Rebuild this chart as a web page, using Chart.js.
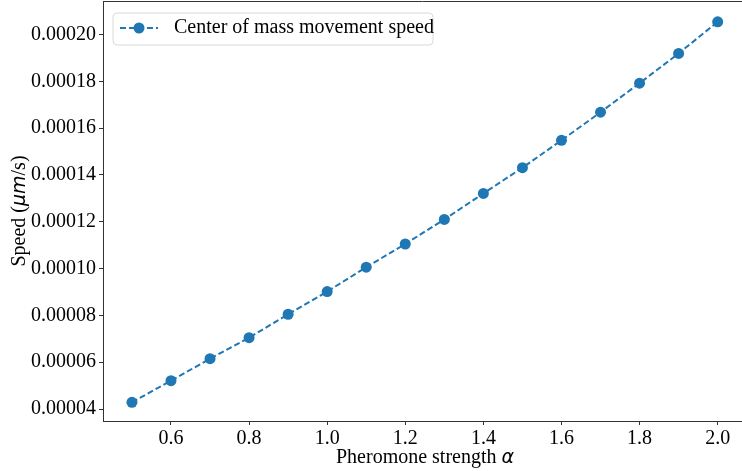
<!DOCTYPE html>
<html>
<head>
<meta charset="utf-8">
<script src="https://cdn.jsdelivr.net/npm/chart.js@4.4.1/dist/chart.umd.min.js"></script>
<style>
  html, body { margin: 0; padding: 0; background: #fff; overflow: hidden; }
  canvas { display: block; }
</style>
</head>
<body>
<canvas id="speedChart" width="742" height="471"></canvas>
<script>
  // pheromone strength (alpha) and centre of mass speed
  const alphaValues = [0.5, 0.6, 0.7, 0.8, 0.9, 1.0, 1.1, 1.2, 1.3, 1.4, 1.5, 1.6, 1.7, 1.8, 1.9, 2.0];
  const speedValues = [0.0000429, 0.0000521, 0.0000615, 0.0000705, 0.0000805, 0.0000902, 0.0001006, 0.0001105,
                       0.0001210, 0.0001321, 0.0001431, 0.0001548, 0.0001668, 0.0001792, 0.0001919, 0.0002054];
  const xTicks = [0.6, 0.8, 1.0, 1.2, 1.4, 1.6, 1.8, 2.0];
  const yTicks = [0.00004, 0.00006, 0.00008, 0.00010, 0.00012, 0.00014, 0.00016, 0.00018, 0.00020];
  const seriesLabel = 'Center of mass movement speed';

  const blue = '#1f77b4';
  const serif = '"Liberation Serif", "Times New Roman", serif';
  const mathFont = '"DejaVu Sans", sans-serif';

  function drawParts(ctx, parts, cx, cy, rotate) {
    ctx.save();
    ctx.translate(cx, cy);
    if (rotate) ctx.rotate(-Math.PI / 2);
    ctx.textBaseline = 'middle';
    ctx.textAlign = 'left';
    ctx.fillStyle = '#000';
    let total = 0;
    parts.forEach(p => { ctx.font = p.font; total += ctx.measureText(p.text).width; });
    let x = -total / 2;
    parts.forEach(p => {
      ctx.font = p.font;
      ctx.fillText(p.text, x, 0);
      x += ctx.measureText(p.text).width;
    });
    ctx.restore();
  }

  const framePlugin = {
    id: 'frame',
    afterDraw(chart) {
      const { ctx, chartArea: a } = chart;
      ctx.save();
      // top spine (right spine falls outside the cropped figure)
      ctx.strokeStyle = '#333';
      ctx.lineWidth = 1;
      ctx.beginPath();
      ctx.moveTo(a.left, a.top + 0.5);
      ctx.lineTo(a.right, a.top + 0.5);
      ctx.stroke();

      // axis titles, centred on the full axes (which run to x = 747)
      drawParts(ctx, [
        { text: 'Pheromone strength ', font: '20px ' + serif },
        { text: 'α', font: 'italic 19px ' + mathFont }
      ], (a.left + 747) / 2, 458, false);
      drawParts(ctx, [
        { text: 'Speed (', font: '20px ' + serif },
        { text: 'μm', font: 'italic 19px ' + mathFont },
        { text: '/s)', font: '20px ' + serif }
      ], 20, (a.top + a.bottom) / 2, true);

      // legend
      const lx = 113, ly = 13, lw = 320, lh = 32, r = 4;
      ctx.beginPath();
      ctx.moveTo(lx + r, ly);
      ctx.arcTo(lx + lw, ly, lx + lw, ly + lh, r);
      ctx.arcTo(lx + lw, ly + lh, lx, ly + lh, r);
      ctx.arcTo(lx, ly + lh, lx, ly, r);
      ctx.arcTo(lx, ly, lx + lw, ly, r);
      ctx.closePath();
      ctx.fillStyle = 'rgba(255,255,255,0.8)';
      ctx.fill();
      ctx.strokeStyle = '#d9d9d9';
      ctx.stroke();
      const my = ly + lh / 2 - 1;
      ctx.strokeStyle = blue;
      ctx.lineWidth = 2;
      ctx.setLineDash([6, 3]);
      ctx.beginPath();
      ctx.moveTo(120, my);
      ctx.lineTo(158, my);
      ctx.stroke();
      ctx.setLineDash([]);
      ctx.fillStyle = blue;
      ctx.beginPath();
      ctx.arc(139, my, 5.5, 0, Math.PI * 2);
      ctx.fill();
      ctx.fillStyle = '#000';
      ctx.font = '20px ' + serif;
      ctx.textBaseline = 'middle';
      ctx.textAlign = 'left';
      ctx.fillText(seriesLabel, 174, my);
      ctx.restore();
    }
  };

  const ctx = document.getElementById('speedChart');

  new Chart(ctx, {
    type: 'line',
    data: {
      datasets: [{
        label: seriesLabel,
        data: alphaValues.map((a, i) => ({ x: a, y: speedValues[i] })),
        borderColor: blue,
        borderWidth: 2,
        borderDash: [6, 3],
        backgroundColor: blue,
        pointRadius: 5.5,
        pointBorderWidth: 0,
        pointBackgroundColor: blue,
        tension: 0
      }]
    },
    options: {
      responsive: false,
      animation: false,
      layout: { autoPadding: false, padding: { top: 1, right: 0, left: 0, bottom: 0 } },
      plugins: {
        legend: { display: false },
        tooltip: { enabled: false }
      },
      scales: {
        x: {
          type: 'linear',
          min: 0.4259,
          max: 2.0623,
          afterBuildTicks: s => { s.ticks = xTicks.map(v => ({ value: v })); },
          afterFit: s => {
            s.height = 50;
            s.paddingLeft = 0; s.paddingRight = 0; s.paddingTop = 0; s.paddingBottom = 0;
          },
          grid: { drawOnChartArea: false, drawTicks: true, tickLength: 4, color: '#333' },
          border: { display: true, color: '#333', width: 1 },
          ticks: {
            color: '#000',
            font: { family: serif, size: 20 },
            padding: 2,
            maxRotation: 0,
            autoSkip: false,
            callback: v => Number(v).toFixed(1)
          }
        },
        y: {
          min: 0.0000349,
          max: 0.0002143,
          afterBuildTicks: s => { s.ticks = yTicks.map(v => ({ value: v })); },
          afterFit: s => {
            s.width = 103;
            s.paddingLeft = 0; s.paddingRight = 0; s.paddingTop = 0; s.paddingBottom = 0;
          },
          grid: { drawOnChartArea: false, drawTicks: true, tickLength: 4, color: '#333' },
          border: { display: true, color: '#333', width: 1 },
          ticks: {
            color: '#000',
            font: { family: serif, size: 20 },
            padding: 3,
            autoSkip: false,
            callback: v => Number(v).toFixed(5)
          }
        }
      }
    },
    plugins: [framePlugin]
  });
</script>
</body>
</html>
